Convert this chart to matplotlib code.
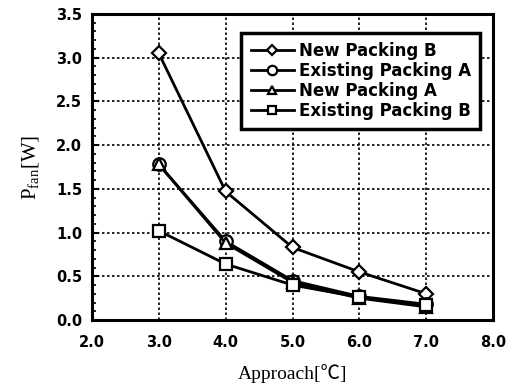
import matplotlib
matplotlib.use("Agg")
import matplotlib.pyplot as plt
from matplotlib.ticker import MultipleLocator, FormatStrFormatter

approach = [3.0, 4.0, 5.0, 6.0, 7.0]
new_packing_b = [3.05, 1.47, 0.83, 0.55, 0.30]
existing_packing_a = [1.78, 0.90, 0.45, 0.27, 0.18]
new_packing_a = [1.78, 0.88, 0.43, 0.25, 0.15]
existing_packing_b = [1.02, 0.64, 0.40, 0.26, 0.17]

series = [
    ("New Packing B", new_packing_b, "D", 7),
    ("Existing Packing A", existing_packing_a, "o", 9),
    ("New Packing A", new_packing_a, "^", 8),
    ("Existing Packing B", existing_packing_b, "s", 8),
]

fig = plt.figure(figsize=(5.15, 3.85), dpi=100)
ax = fig.add_axes([92 / 515, 1 - 320 / 385, (493 - 92) / 515, (320 - 14) / 385])

for name, vals, mk, ms in series:
    ax.plot(approach, vals, color="black", lw=2, marker=mk, ms=ms,
            mfc="white", mec="black", mew=1.6, label=name, zorder=3)

ax.set_xlim(2.0, 8.0)
ax.set_ylim(0.0, 3.5)
ax.xaxis.set_major_locator(MultipleLocator(1.0))
ax.yaxis.set_major_locator(MultipleLocator(0.5))
ax.yaxis.set_minor_locator(MultipleLocator(0.1))
ax.xaxis.set_major_formatter(FormatStrFormatter("%.1f"))
ax.yaxis.set_major_formatter(FormatStrFormatter("%.1f"))

ax.grid(True, which="major", color="black", linestyle=(0, (1.5, 1.5)), lw=1.2)
ax.tick_params(axis="both", which="both", direction="in", color="black")
ax.tick_params(axis="y", which="major", length=5, width=1.5)
ax.tick_params(axis="y", which="minor", length=3, width=1.2)
ax.tick_params(axis="x", which="major", length=0, pad=11)
ax.tick_params(axis="y", pad=7)
ax.tick_params(axis="both", labelsize=10.5)
for lab in ax.get_xticklabels() + ax.get_yticklabels():
    lab.set_fontweight("bold")
    lab.set_family("DejaVu Sans")

for sp in ax.spines.values():
    sp.set_linewidth(2.2)

ax.set_xlabel("Approach[\u2103]", family=["Liberation Serif", "Noto Sans CJK JP"],
              fontsize=14, labelpad=10)
ax.set_ylabel(r"P$_{\mathregular{fan}}$[W]", family="Liberation Serif",
              fontsize=15, labelpad=10)

leg = ax.legend(loc="upper right", bbox_to_anchor=(0.968, 0.938), frameon=True,
                fancybox=False, edgecolor="black", handlelength=2.6,
                handletextpad=0.3, labelspacing=0.12, borderpad=0.55,
                borderaxespad=0.0, markerscale=0.75,
                prop={"family": "DejaVu Sans", "size": 12, "weight": "bold"})
leg.get_frame().set_linewidth(2.5)
leg.get_frame().set_alpha(1)

fig.savefig("out.png", dpi=100)
